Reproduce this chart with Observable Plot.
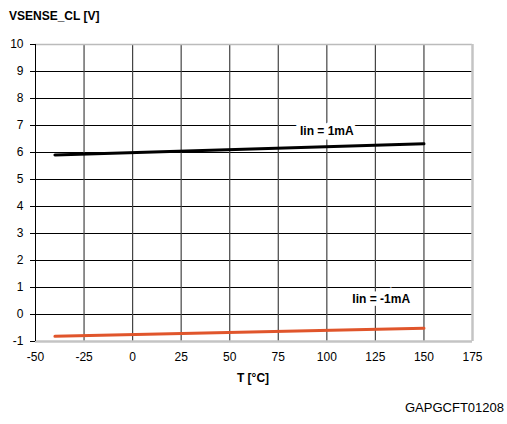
<!DOCTYPE html>
<html>
<head>
<meta charset="utf-8">
<script src="https://cdn.jsdelivr.net/npm/d3@7"></script>
<script src="https://cdn.jsdelivr.net/npm/@observablehq/plot@0.6"></script>
<style>
  body { margin: 0; background: #fff; font-family: "Liberation Sans", Arial, sans-serif; }
  #wrap { position: relative; width: 507px; height: 424px; }
  .t { position: absolute; color: #000; white-space: nowrap; }
</style>
</head>
<body>
<div id="wrap">
  <div class="t" style="left:9px;top:9px;font-size:12px;font-weight:bold;">VSENSE_CL [V]</div>
  <div class="t" style="left:0;width:507px;top:371px;text-align:center;font-size:12px;font-weight:bold;padding-left:0px;"><span style="position:absolute;left:253px;transform:translateX(-50%);">T [°C]</span></div>
  <div class="t" style="right:3px;top:400px;font-size:13px;">GAPGCFT01208</div>
</div>
<script>
const xTicks = [-50, -25, 0, 25, 50, 75, 100, 125, 150, 175];
const yTicks = [-1, 0, 1, 2, 3, 4, 5, 6, 7, 8, 9, 10];

const temps = [-40, 150];
const vPos = [5.91, 6.32];   // Iin = 1mA
const vNeg = [-0.81, -0.51]; // Iin = -1mA

const labels = [
  { t: 100, v: 6.78, text: "Iin = 1mA" },
  { t: 128, v: 0.55, text: "Iin = -1mA" }
];

const pos = temps.map((t, i) => ({ t, v: vPos[i] }));
const neg = temps.map((t, i) => ({ t, v: vNeg[i] }));

const chart = Plot.plot({
  width: 507,
  height: 424,
  marginLeft: 35,
  marginRight: 35,
  marginTop: 44,
  marginBottom: 83,
  style: { fontFamily: "Liberation Sans, Arial, sans-serif", fontSize: "12px", background: "transparent" },
  x: { domain: [-50, 175] },
  y: { domain: [-1, 10] },
  marks: [
    Plot.ruleY(yTicks.filter(d => d > -1 && d < 10), { stroke: "#000", strokeWidth: 1 }),
    Plot.ruleX(xTicks.filter(d => d > -50 && d < 175), { stroke: "#444", strokeWidth: 1.2 }),
    Plot.ruleY([10], { stroke: "#bbb", strokeWidth: 1.5 }),
    Plot.ruleY([-1], { stroke: "#c4c4c4", strokeWidth: 2.5 }),
    Plot.ruleX([175], { stroke: "#c4c4c4", strokeWidth: 2.5 }),
    Plot.ruleX([-50], { stroke: "#000", strokeWidth: 1 }),
    Plot.axisY({ ticks: yTicks, tickSize: 5, tickPadding: 7, label: null, fontSize: 12, tickFormat: d => String(d) }),
    Plot.axisX({ ticks: xTicks, tickSize: 0, tickPadding: 11, label: null, fontSize: 12, tickFormat: d => String(d) }),
    Plot.line(pos, { x: "t", y: "v", stroke: "#000", strokeWidth: 3 }),
    Plot.line(neg, { x: "t", y: "v", stroke: "#e0552b", strokeWidth: 3 }),
    Plot.text(labels, { x: "t", y: "v", text: "text", fontWeight: "bold", fontSize: 12, fill: "#000", stroke: "#fff", strokeWidth: 9, strokeLinejoin: "miter" })
  ]
});
chart.style.position = "absolute";
chart.style.left = "0";
chart.style.top = "0";
document.getElementById("wrap").appendChild(chart);
</script>
</body>
</html>
